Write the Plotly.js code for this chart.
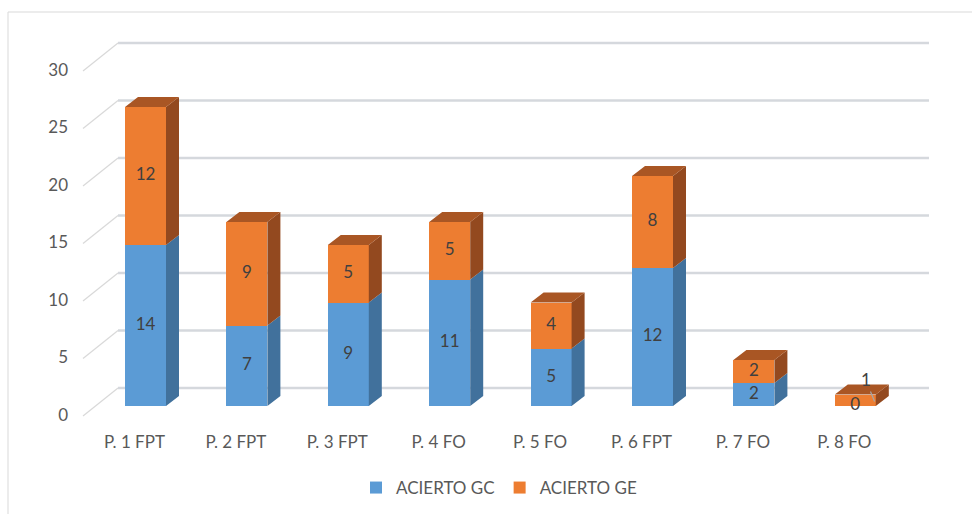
<!DOCTYPE html>
<html>
<head>
<meta charset="utf-8">
<script src="https://cdn.plot.ly/plotly-3.0.1.min.js"></script>
<style>html,body{margin:0;padding:0;background:#fff;}#chart{width:972px;height:514px;}</style>
</head>
<body>
<div id="chart"></div>
<script>
// ---- data ----
const categories = ['P. 1 FPT','P. 2 FPT','P. 3 FPT','P. 4 FO','P. 5 FO','P. 6 FPT','P. 7 FO','P. 8 FO'];
const aciertoGC = [14, 7, 9, 11, 5, 12, 2, 0];
const aciertoGE = [12, 9, 5, 5, 4, 8, 2, 1];
const seriesNames = ['ACIERTO GC', 'ACIERTO GE'];
const yTicks = [0, 5, 10, 15, 20, 25, 30];

// ---- geometry (pixels -> axis units) ----
const W = 972, H = 514;
const M = {l: 80, r: 20, t: 20, b: 89};
const catPx = 101.4, cat0Px = 145.5;   // px per category, px of first category
const valPx = 11.5, zeroPx = 406;      // px per unit, px of value 0 (bar front)
const xr = [(M.l - cat0Px) / catPx, (W - M.r - cat0Px) / catPx];
const yr = [(zeroPx - (H - M.b)) / valPx, (zeroPx - M.t) / valPx];
const barW = 41 / catPx;
const dX = 13 / catPx, dY = 10 / valPx;              // bar depth
const backX0 = (118 - cat0Px) / catPx, backX1 = (929 - cat0Px) / catPx, backY = 18 / valPx;
const diagX0 = (83 - cat0Px) / catPx, diagY = -10 / valPx;

const colFront = ['#5B9BD5', '#ED7D31'];
const colSide = ['#41719C', '#93491F'];
const colTop = ['#4E86B8', '#A95624'];
const FONT = 'Lato, sans-serif';

const idx = categories.map((_, i) => i);
const traces = [];

// front faces (real stacked bars)
[aciertoGC, aciertoGE].forEach((vals, s) => {
  traces.push({
    type: 'bar', x: idx, y: vals, name: seriesNames[s], width: barW,
    marker: {color: colFront[s], line: {width: 0}},
    hoverinfo: 'skip', textposition: 'none'
  });
});

// side and top faces
const bases = [aciertoGC.map(() => 0), aciertoGC];
[aciertoGC, aciertoGE].forEach((vals, s) => {
  const sx = [], sy = [];
  vals.forEach((v, i) => {
    const b = bases[s][i], t = b + v, r = i + barW / 2;
    if (v <= 0) return;
    sx.push(r, r + dX, r + dX, r, r, null);
    sy.push(b, b + dY, t + dY, t, b, null);
  });
  traces.push({type: 'scatter', x: sx, y: sy, mode: 'lines', fill: 'toself',
    fillcolor: colSide[s], line: {width: 0, color: colSide[s]}, hoverinfo: 'skip', showlegend: false});
  const tx = [], ty = [];
  vals.forEach((v, i) => {
    const b = bases[s][i], t = b + v, l = i - barW / 2, r = i + barW / 2;
    const isTop = (s === 1) || aciertoGE[i] === 0;
    if (!isTop) return;
    tx.push(l, l + dX, r + dX, r, l, null);
    ty.push(t, t + dY, t + dY, t, t, null);
  });
  traces.push({type: 'scatter', x: tx, y: ty, mode: 'lines', fill: 'toself',
    fillcolor: colTop[s], line: {width: 0, color: colTop[s]}, hoverinfo: 'skip', showlegend: false});
});

// data labels
const lastI = categories.length - 1;
traces.push({type: 'scatter', mode: 'text', x: idx,
  y: aciertoGC.map(v => v / 2), text: aciertoGC.map(String),
  textfont: {family: FONT, size: 17, color: '#404040'},
  hoverinfo: 'skip', showlegend: false, cliponaxis: false});
traces.push({type: 'scatter', mode: 'text', x: idx,
  y: aciertoGE.map((v, i) => aciertoGC[i] + v / 2),
  text: aciertoGE.map((v, i) => i === lastI ? '' : String(v)),
  textfont: {family: FONT, size: 17, color: '#404040'},
  hoverinfo: 'skip', showlegend: false, cliponaxis: false});

// gridlines on the back wall + diagonals (from tick values)
const shapes = [];
yTicks.forEach(v => {
  shapes.push({type: 'line', layer: 'below', xref: 'x', yref: 'y',
    x0: backX0, x1: backX1, y0: v + backY, y1: v + backY,
    line: {color: '#D5D8DD', width: 2.5}});
  shapes.push({type: 'line', layer: 'below', xref: 'x', yref: 'y',
    x0: diagX0, x1: backX0, y0: v + diagY, y1: v + backY,
    line: {color: '#D9D9D9', width: 1.3}});
});
// chart border
shapes.push({type: 'rect', xref: 'paper', yref: 'paper', layer: 'below',
  x0: (8 - M.l) / (W - M.l - M.r), x1: 1.2,
  y0: -0.5, y1: ((H - M.b) - 12) / (H - M.t - M.b),
  line: {color: '#D9D9D9', width: 1}, fillcolor: 'rgba(0,0,0,0)'});

const annotations = [{
  xref: 'x', yref: 'y', x: lastI + 0.19, y: aciertoGC[lastI] + aciertoGE[lastI] * 0.4,
  ax: -9, ay: -22, text: String(aciertoGE[lastI]), showarrow: true, arrowhead: 0,
  arrowwidth: 1.2, arrowcolor: '#A6A6A6', standoff: 0,
  font: {family: FONT, size: 17, color: '#404040'}
}];

const layout = {
  width: W, height: H,
  margin: Object.assign({autoexpand: false}, M),
  paper_bgcolor: '#ffffff', plot_bgcolor: 'rgba(0,0,0,0)',
  barmode: 'stack',
  showlegend: true,
  font: {family: FONT, color: '#595959'},
  xaxis: {range: xr, tickvals: idx, ticktext: categories, showgrid: false, zeroline: false,
    showline: false, ticks: '', ticklabelshift: -11, ticklabelstandoff: 5, automargin: false,
    tickfont: {family: FONT, size: 17, color: '#595959'}, fixedrange: true},
  yaxis: {range: yr, tickvals: yTicks, ticktext: yTicks.map(String), showgrid: false, zeroline: false,
    showline: false, ticks: '', ticklabelshift: 9, ticklabelstandoff: 11, automargin: false,
    tickfont: {family: FONT, size: 17, color: '#595959'}, fixedrange: true},
  legend: {orientation: 'h', xref: 'container', yref: 'container',
    x: 499 / W, xanchor: 'center', y: (H - 488) / H, yanchor: 'middle',
    font: {family: FONT, size: 17, color: '#595959'}, traceorder: 'normal'},
  shapes: shapes,
  annotations: annotations
};

Plotly.newPlot('chart', traces, layout, {displayModeBar: false, staticPlot: true});
</script>
</body>
</html>
